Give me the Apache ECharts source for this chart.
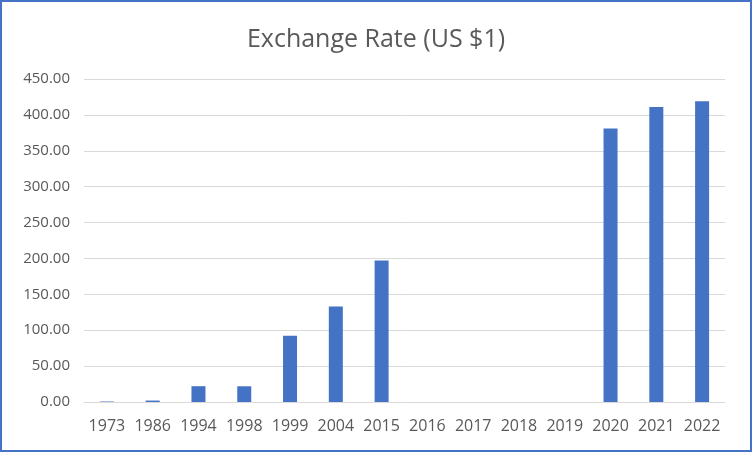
<!DOCTYPE html>
<html><head><meta charset="utf-8">
<script src="https://cdn.jsdelivr.net/npm/echarts@6/dist/echarts.min.js"></script>
<style>html,body{margin:0;padding:0;background:#fff}#c{width:752px;height:452px}</style>
</head><body><div id="c"></div>
<script>
const categories = ['1973','1986','1994','1998','1999','2004','2015','2016','2017','2018','2019','2020','2021','2022'];
const rates = [0.66, 2.02, 22.0, 21.9, 92.3, 132.9, 197.0, null, null, null, null, 381.0, 411.0, 419.0];
const titleText = 'Exchange Rate (US $1)';

const chart = echarts.init(document.getElementById('c'));
chart.setOption({
  animation: false,
  backgroundColor: '#fff',
  title: { text: titleText, left: 'center', top: 22, textStyle: { fontFamily: 'Open Sans', fontSize: 25, fontWeight: 'normal', color: '#595959' } },
  graphic: [{ type: 'rect', shape: { x: 1, y: 1, width: 750, height: 450 }, style: { fill: 'none', stroke: '#4472C4', lineWidth: 2 }, silent: true }],
  grid: { left: 84, right: 27, top: 79, bottom: 50 },
  xAxis: {
    type: 'category', data: categories,
    axisLine: { lineStyle: { color: '#d9d9d9' } },
    axisTick: { show: false },
    axisLabel: { color: '#595959', fontFamily: 'Open Sans', fontSize: 16, margin: 16, interval: 0 }
  },
  yAxis: {
    type: 'value', min: 0, max: 450, interval: 50,
    axisLabel: { color: '#595959', fontFamily: 'Open Sans', fontSize: 15, margin: 14, formatter: v => v.toFixed(2) },
    splitLine: { lineStyle: { color: '#d9d9d9' } },
    axisLine: { show: false }, axisTick: { show: false }
  },
  series: [{ type: 'bar', data: rates, barWidth: 14, itemStyle: { color: '#4472C4' } }]
});
</script></body></html>
